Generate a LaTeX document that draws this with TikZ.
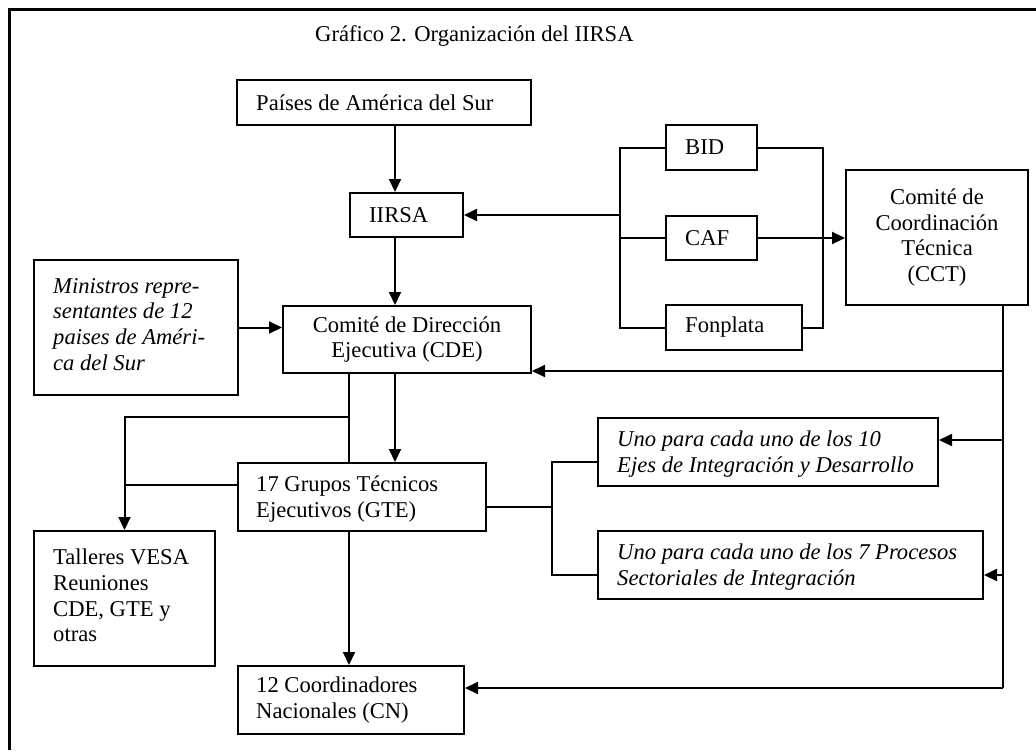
\documentclass[tikz,border=0pt]{standalone}
\usepackage{fontspec}
\setmainfont{Liberation Serif}
\usetikzlibrary{arrows.meta,calc}
\begin{document}
\begin{tikzpicture}[x=1pt,y=-1pt,
  box/.style={draw, line width=2pt, inner sep=0pt, anchor=north west},
  txt/.style={inner sep=0pt, align=left, font=\fontsize{22.6}{25.8}\selectfont},
  ittxt/.style={txt, font=\fontsize{22.6}{25.8}\selectfont\itshape},
  ctxt/.style={align=center, font=\fontsize{22.6}{25.8}\selectfont},
  conn/.style={line width=2pt},
  arr/.style={conn, -{Triangle[length=13pt,width=12pt]}},
]
\useasboundingbox (0,0) rectangle (1036,750);
\draw[line width=2.7pt] (9.7,750) -- (9.7,9.7) -- (1036,9.7);

\node[txt, anchor=base west] (title) at (315,41) {Gráfico 2. Organización del IIRSA};

% boxes
\node[box, minimum width=294pt, minimum height=45pt] (pais) at (236,79) {};
\node[txt, anchor=west] (pais-t) at ($(pais.west)+(20,0)$) {Países de América del Sur};

\node[box, minimum width=113pt, minimum height=44pt] (iirsa) at (349,192) {};
\node[txt, anchor=west] (iirsa-t) at ($(iirsa.west)+(20,0)$) {IIRSA};

\node[box, minimum width=204pt, minimum height=135pt] (min) at (33,259) {};
\node[ittxt, anchor=west] (min-t) at ($(min.west)+(20,-3)$) {Ministros repre-\\sentantes de 12\\paises de Améri-\\ca del Sur};

\node[box, ctxt, minimum width=248pt, minimum height=67pt] (cde) at (282,305) {Comité de Dirección\\Ejecutiva (CDE)};

\node[box, minimum width=91pt, minimum height=45pt] (bid) at (665,124) {};
\node[txt, anchor=west] (bid-t) at ($(bid.west)+(20,0)$) {BID};

\node[box, minimum width=91pt, minimum height=44pt] (caf) at (665,215) {};
\node[txt, anchor=west] (caf-t) at ($(caf.west)+(20,0)$) {CAF};

\node[box, minimum width=136pt, minimum height=45pt] (fon) at (665,304) {};
\node[txt, anchor=west] (fon-t) at ($(fon.west)+(20,0)$) {Fonplata};

\node[box, ctxt, minimum width=182pt, minimum height=135pt] (cct) at (845,169) {Comité de\\Coordinación\\Técnica\\(CCT)};

\node[box, minimum width=340pt, minimum height=68pt] (uno10) at (597,417) {};
\node[ittxt, anchor=west] (uno10-t) at ($(uno10.west)+(20,2)$) {Uno para cada uno de los 10\\Ejes de Integración y Desarrollo};

\node[box, minimum width=385pt, minimum height=68pt] (uno7) at (597,530) {};
\node[ittxt, anchor=west] (uno7-t) at ($(uno7.west)+(20,2)$) {Uno para cada uno de los 7 Procesos\\Sectoriales de Integración};

\node[box, minimum width=248pt, minimum height=68pt] (gte) at (237,462) {};
\node[txt, anchor=west] (gte-t) at ($(gte.west)+(19,2)$) {17 Grupos Técnicos\\Ejecutivos (GTE)};

\node[box, minimum width=181pt, minimum height=135pt] (tall) at (33,530) {};
\node[txt, anchor=west] (tall-t) at ($(tall.west)+(20,-3)$) {Talleres VESA\\Reuniones\\CDE, GTE y\\otras};

\node[box, minimum width=226pt, minimum height=68pt] (cn) at (237,665) {};
\node[txt, anchor=west] (cn-t) at ($(cn.west)+(19,0)$) {12 Coordinadores\\Nacionales (CN)};

% columns
\coordinate (xa) at (395,0);
\coordinate (xb) at (349,0);
\coordinate (xl) at (620,0);
\coordinate (xr) at (823,0);
\coordinate (xg) at (552,0);
\coordinate (k1) at (1003,371);
\coordinate (k2) at (1003,440);
\coordinate (k3) at (1003,575);
\coordinate (k4) at (1003,688);
\coordinate (j1) at (349,417);

% connectors
\draw[arr] (pais.south -| xa) -- (iirsa.north -| xa);
\draw[arr] (iirsa.south -| xa) -- (cde.north -| xa);
\draw[arr] (min.east) -- (min.east -| cde.west);

\draw[conn] (bid.west) -- (bid.west -| xl) -- (fon.west -| xl) -- (fon.west);
\draw[conn] (caf.west) -- (caf.west -| xl);
\draw[arr] (iirsa.east -| xl) -- (iirsa.east);
\draw[conn] (bid.east) -- (bid.east -| xr) -- (fon.east -| xr) -- (fon.east);
\draw[arr] (caf.east) -- (caf.east -| cct.west);

\draw[conn] (cct.south -| k1) -- (k4);
\draw[arr] (k1) -- (k1 -| cde.east);
\draw[arr] (k2) -- (k2 -| uno10.east);
\draw[arr] (k3) -- (k3 -| uno7.east);
\draw[arr] (k4) -- (k4 -| cn.east);

\draw[arr] (cde.south -| xa) -- (gte.north -| xa);
\draw[conn] (cde.south -| xb) -- (gte.north -| xb);
\draw[arr] (j1) -| (tall.north);
\draw[conn] (gte.west |- 0,485) -- (tall.north |- 0,485);

\draw[conn] (gte.east |- 0,507) -- (xg |- 0,507);
\draw[conn] (uno10.west |- 0,462) -- (xg |- 0,462) -- (xg |- 0,575) -- (uno7.west |- 0,575);

\draw[arr] (gte.south -| xb) -- (cn.north -| xb);
\end{tikzpicture}
\end{document}
